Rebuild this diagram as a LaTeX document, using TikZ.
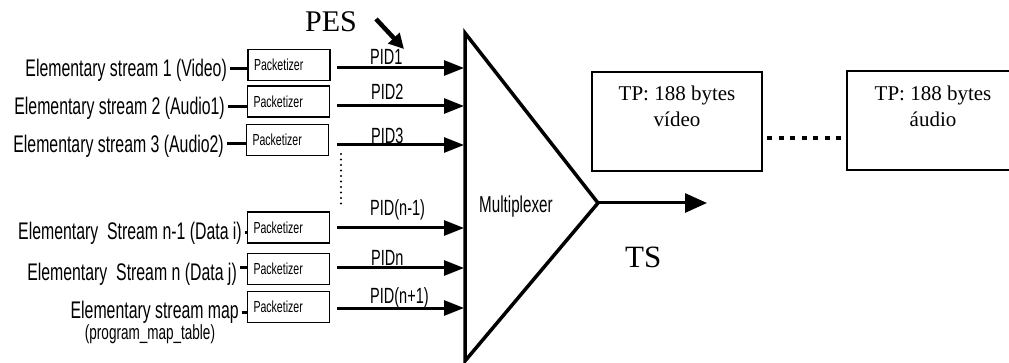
\documentclass[tikz,border=0pt]{standalone}
\usepackage{fontspec}
\setmainfont{Liberation Serif}
\newfontfamily\narrowsf[FakeStretch=0.66]{Liberation Sans}
\usetikzlibrary{arrows.meta}
\begin{document}
\begin{tikzpicture}[x=1pt,y=-1pt,
  lab/.style={font=\narrowsf\fontsize{24}{28}\selectfont, inner sep=0pt, anchor=base east},
  sublab/.style={font=\narrowsf\fontsize{20.5}{24}\selectfont, inner sep=0pt, anchor=base},
  pkt/.style={draw, line width=1.4pt, text width=70pt, align=left, inner xsep=6pt, inner ysep=0pt,
              minimum height=31pt, font=\narrowsf\fontsize{16}{19}\selectfont},
  pid/.style={font=\narrowsf\fontsize{22}{26}\selectfont, inner sep=0pt, anchor=base west},
  inarrow/.style={line width=3pt, -{Triangle[length=20pt,width=15pt]}},
  outarrow/.style={line width=3pt, -{Triangle[length=22pt,width=19pt]}},
  pesarrow/.style={line width=4.5pt, -{Triangle[length=15pt,width=15pt]}},
  link/.style={line width=3pt},
  mux/.style={line width=3.5pt},
  tpbox/.style={draw, line width=2pt, minimum width=170pt, minimum height=99pt, inner sep=0pt},
  tptext/.style={font=\fontsize{21}{26}\selectfont, align=center, inner sep=0pt, anchor=north},
  bigser/.style={font=\fontsize{30}{34}\selectfont, inner sep=0pt, anchor=base west},
  sqdots/.style={line width=4.5pt, dash pattern=on 5pt off 6.5pt},
  rdots/.style={line width=2.2pt, line cap=round, dash pattern=on 0pt off 5.5pt}
]
\useasboundingbox (0,0) rectangle (1009,363);

% multiplexer triangle
\coordinate (mtop) at (465,33);
\coordinate (mbot) at (465,361);
\coordinate (apex) at (598,203);
\draw[mux] (mtop) -- (mbot) -- (apex) -- cycle;
\node[font=\narrowsf\fontsize{23}{26}\selectfont, inner sep=0pt, anchor=base west] (muxlab) at (479,213) {Multiplexer};

% left labels
\node[lab] (l1) at (227,77) {Elementary stream 1 (Video)};
\node[lab] (l2) at (225,115) {Elementary stream 2 (Audio1)};
\node[lab] (l3) at (224,153) {Elementary stream 3 (Audio2)};
\node[lab] (l4) at (242,240) {Elementary\ \ Stream n-1 (Data i)};
\node[lab] (l5) at (237,280) {Elementary\ \ Stream n (Data j)};
\node[lab] (l6) at (239,319) {Elementary stream map};
\node[sublab] (l6b) at (150,339) {(program\_map\_table)};

% packetizers
\node[pkt] (p1) at (289,65) {Packetizer};
\node[pkt] (p2) at (288.5,101.5) {Packetizer};
\node[pkt] (p3) at (287.5,140) {Packetizer};
\node[pkt] (p4) at (288.5,227.5) {Packetizer};
\node[pkt] (p5) at (288.5,269) {Packetizer};
\node[pkt] (p6) at (288.5,307) {Packetizer};

% label-to-packetizer links
\draw[link] ([xshift=3pt,yshift=8pt]l1.base east) -- ([yshift=8pt]l1.base east -| p1.west);
\draw[link] ([xshift=3pt,yshift=8pt]l2.base east) -- ([yshift=8pt]l2.base east -| p2.west);
\draw[link] ([xshift=3pt,yshift=9pt]l3.base east) -- ([yshift=9pt]l3.base east -| p3.west);
\draw[link] ([xshift=3pt,yshift=7pt]l4.base east) -- ([yshift=7pt]l4.base east -| p4.west);
\draw[link] ([xshift=3pt,yshift=12pt]l5.base east) -- ([yshift=12pt]l5.base east -| p5.west);
\draw[link] ([xshift=3pt,yshift=7pt]l6.base east) -- ([yshift=7pt]l6.base east -| p6.west);

% input arrows
\foreach \i/\y in {1/68,2/106,3/145,4/228,5/268,6/308}{
  \coordinate (a\i) at (337,\y);
  \coordinate (m\i) at (464,\y);
}
\draw[inarrow] (a1) -- (m1);
\draw[inarrow] (a2) -- (m2);
\draw[inarrow] (a3) -- (m3);
\draw[inarrow] (a4) -- (m4);
\draw[inarrow] (a5) -- (m5);
\draw[inarrow] (a6) -- (m6);

% PID labels
\node[pid] (pid1) at (370,65) {PID1};
\node[pid] (pid2) at (371,100) {PID2};
\node[pid] (pid3) at (371,144) {PID3};
\node[pid] (pid4) at (370,216) {PID(n-1)};
\node[pid] (pid5) at (371,266) {PIDn};
\node[pid] (pid6) at (370,303) {PID(n+1)};

% vertical dots
\coordinate (vd1) at (341,154);
\coordinate (vd2) at (341,208);
\draw[rdots] (vd1) -- (vd2);

% PES
\node[bigser] (pes) at (305,32) {PES};
\coordinate (pesA) at (376,19);
\coordinate (pesB) at (404,49);
\draw[pesarrow] (pesA) -- (pesB);

% output
\coordinate (tsend) at (707,203);
\draw[outarrow] (apex) -- (tsend);
\node[bigser, font=\fontsize{31}{34}\selectfont] (ts) at (625,268) {TS};

% transport packets
\node[tpbox] (tp1) at (677,121.5) {};
\node[tptext] (tp1t) at (677,85.5) {TP: 188 bytes\\vídeo};
\node[tpbox] (tp2) at (932,121) {};
\node[tptext] (tp2t) at (933,85.5) {TP: 188 bytes\\áudio};
\coordinate (d1) at (767,138);
\coordinate (d2) at (843,138);
\draw[sqdots] (d1) -- (d2);
\end{tikzpicture}
\end{document}
